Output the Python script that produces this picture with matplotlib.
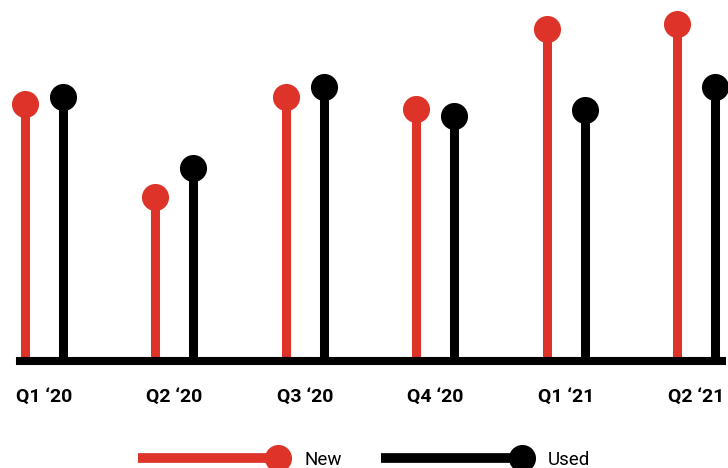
import numpy as np
import matplotlib
matplotlib.use("Agg")
import matplotlib.pyplot as plt
from matplotlib.lines import Line2D
from matplotlib.legend_handler import HandlerBase

# values (arbitrary units, baseline = 0)
quarters = ["Q1 \u201820", "Q2 \u201820", "Q3 \u201820", "Q4 \u201820", "Q1 \u201821", "Q2 \u201821"]
new_vals = [257, 164, 264, 252, 332, 337]
used_vals = [264, 193, 274, 245, 251, 274]

RED = "#DE3328"
BLACK = "#000000"
plt.rcParams['font.family'] = ['Roboto', 'DejaVu Sans']

fig = plt.figure(figsize=(7.28, 4.68), dpi=100)
ax = fig.add_axes([20 / 728, 1 - 361 / 468, 702 / 728, 361 / 468])

x = np.arange(len(quarters))
off = 0.1457
stem_lw = 6.5
dot_ms = 19.5

for xs, vals, col in [(x - off, new_vals, RED), (x + off, used_vals, BLACK)]:
    ax.vlines(xs, 0, vals, color=col, lw=stem_lw, zorder=2)
    ax.plot(xs, vals, 'o', color=col, ms=dot_ms, mec='none', zorder=3, clip_on=False)

ax.axhline(0, color=BLACK, lw=5.8, zorder=4, clip_on=False)

ax.set_xlim(-0.184, 5.199)
ax.set_ylim(0, 361)
for s in ax.spines.values():
    s.set_visible(False)
ax.set_yticks([])
ax.set_xticks(x)
ax.set_xticklabels(quarters, fontsize=14, fontweight='bold')
ax.tick_params(axis='x', length=0, pad=19)


class StemHandler(HandlerBase):
    def create_artists(self, legend, orig_handle, xdescent, ydescent,
                       width, height, fontsize, trans):
        col = orig_handle.get_color()
        y = height / 2 - ydescent
        line = Line2D([-xdescent, width - xdescent], [y, y], color=col, lw=7, solid_capstyle='butt')
        dot = Line2D([width - xdescent], [y], marker='o', ms=dot_ms, color=col, mec='none')
        line.set_transform(trans)
        dot.set_transform(trans)
        return [line, dot]


handles = [Line2D([], [], color=RED), Line2D([], [], color=BLACK)]
fig.legend(handles, ["New", "Used"], loc='center', bbox_to_anchor=(0.5, 8 / 468),
           ncol=2, frameon=False, fontsize=13.5, handlelength=7.5, handletextpad=1.4,
           columnspacing=2.1, handler_map={Line2D: StemHandler()})

fig.savefig("out.png", dpi=100)
